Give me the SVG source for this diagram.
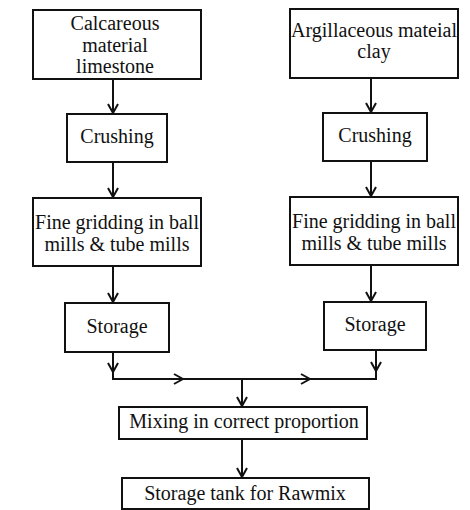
<svg xmlns="http://www.w3.org/2000/svg" width="470" height="510" viewBox="0 0 470 510">
<defs>
<marker id="ah" viewBox="0 0 12 12" refX="11" refY="6" markerWidth="12" markerHeight="12" markerUnits="userSpaceOnUse" orient="auto">
<polyline points="2,1 11,6 2,11" fill="none" stroke="#111" stroke-width="2"/>
</marker>
<style>
.box{fill:#fff;stroke:#111;stroke-width:2}
.t{font-family:"Liberation Serif","Times New Roman",serif;font-size:20px;fill:#111;text-anchor:middle}
.c{fill:none;stroke:#111;stroke-width:2}
</style>
</defs>
<rect width="470" height="510" fill="#fff"/>
<g id="connectors">
<line class="c" x1="113" y1="79" x2="113" y2="113" marker-end="url(#ah)"/>
<line class="c" x1="113" y1="162" x2="113" y2="197" marker-end="url(#ah)"/>
<line class="c" x1="113" y1="266" x2="113" y2="302" marker-end="url(#ah)"/>
<line class="c" x1="113" y1="352" x2="113" y2="372" marker-end="url(#ah)"/>
<line class="c" x1="371" y1="78" x2="371" y2="112" marker-end="url(#ah)"/>
<line class="c" x1="371" y1="161" x2="371" y2="196" marker-end="url(#ah)"/>
<line class="c" x1="371" y1="265" x2="371" y2="301" marker-end="url(#ah)"/>
<line class="c" x1="376" y1="350" x2="376" y2="371" marker-end="url(#ah)"/>
<polyline class="c" points="113,372 113,379 376,379 376,371"/>
<line class="c" x1="113" y1="379" x2="183" y2="379" marker-end="url(#ah)"/>
<line class="c" x1="183" y1="379" x2="310" y2="379" marker-end="url(#ah)"/>
<line class="c" x1="242" y1="379" x2="242" y2="406" marker-end="url(#ah)"/>
<line class="c" x1="242" y1="439" x2="242" y2="477" marker-end="url(#ah)"/>
</g>
<g id="calcareous">
<rect class="box" x="33" y="10" width="168" height="69"/>
<text class="t" x="115" y="30">Calcareous</text>
<text class="t" x="115" y="52">material</text>
<text class="t" x="115" y="73">limestone</text>
</g>
<g id="crushing-left">
<rect class="box" x="67" y="114" width="100" height="48"/>
<text class="t" x="117" y="143">Crushing</text>
</g>
<g id="grinding-left">
<rect class="box" x="33" y="198" width="168" height="68"/>
<text class="t" x="117" y="229" textLength="164" lengthAdjust="spacingAndGlyphs">Fine gridding in ball</text>
<text class="t" x="117" y="251">mills &amp; tube mills</text>
</g>
<g id="storage-left">
<rect class="box" x="65" y="303" width="104" height="49"/>
<text class="t" x="117" y="333">Storage</text>
</g>
<g id="argillaceous">
<rect class="box" x="290" y="9" width="168" height="69"/>
<text class="t" x="374" y="37" textLength="166" lengthAdjust="spacingAndGlyphs">Argillaceous mateial</text>
<text class="t" x="374" y="58">clay</text>
</g>
<g id="crushing-right">
<rect class="box" x="323" y="113" width="104" height="48"/>
<text class="t" x="375" y="142">Crushing</text>
</g>
<g id="grinding-right">
<rect class="box" x="290" y="197" width="168" height="68"/>
<text class="t" x="374" y="228" textLength="164" lengthAdjust="spacingAndGlyphs">Fine gridding in ball</text>
<text class="t" x="374" y="250">mills &amp; tube mills</text>
</g>
<g id="storage-right">
<rect class="box" x="324" y="302" width="102" height="48"/>
<text class="t" x="375" y="331">Storage</text>
</g>
<g id="mixing">
<rect class="box" x="119" y="407" width="248" height="32"/>
<text class="t" x="244" y="428">Mixing in correct proportion</text>
</g>
<g id="storage-tank">
<rect class="box" x="122" y="478" width="247" height="31"/>
<text class="t" x="245" y="500">Storage tank for Rawmix</text>
</g>
</svg>
